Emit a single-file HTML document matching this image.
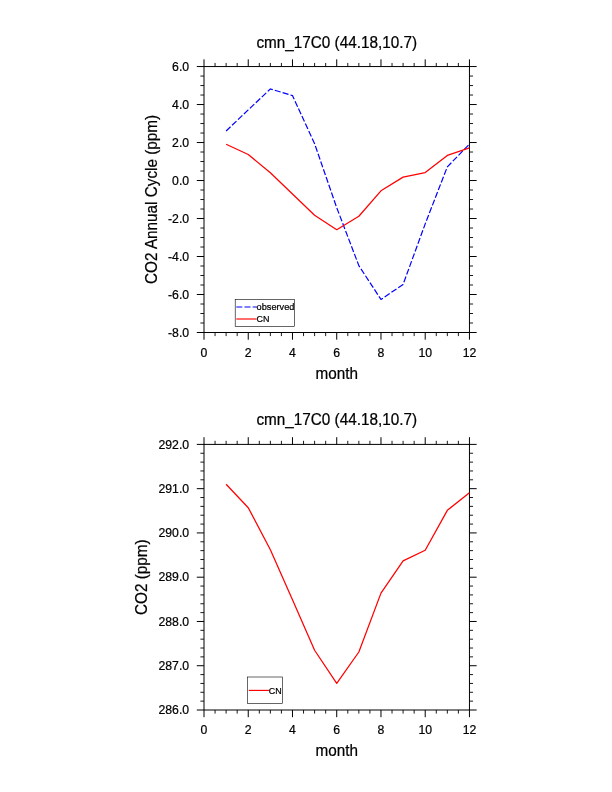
<!DOCTYPE html>
<html><head><meta charset="utf-8"><title>cmn_17C0</title>
<style>
html,body{margin:0;padding:0;background:#fff;}
body{width:612px;height:792px;overflow:hidden;}
svg{display:block;will-change:transform;font-family:"Liberation Sans", sans-serif;fill:#000;}
text{stroke:#000;stroke-width:0.22px;}
</style></head><body>
<svg width="612" height="792" viewBox="0 0 612 792">
<rect x="0" y="0" width="612" height="792" fill="#ffffff"/>
<rect x="204.00" y="66.55" width="265.45" height="265.95" fill="none" stroke="#000" stroke-width="1.00"/>
<line x1="204.00" y1="66.55" x2="204.00" y2="59.35" stroke="#000" stroke-width="1.00"/>
<line x1="204.00" y1="332.50" x2="204.00" y2="339.70" stroke="#000" stroke-width="1.00"/>
<line x1="215.06" y1="66.55" x2="215.06" y2="62.95" stroke="#000" stroke-width="0.90"/>
<line x1="215.06" y1="332.50" x2="215.06" y2="336.10" stroke="#000" stroke-width="0.90"/>
<line x1="226.12" y1="66.55" x2="226.12" y2="62.95" stroke="#000" stroke-width="0.90"/>
<line x1="226.12" y1="332.50" x2="226.12" y2="336.10" stroke="#000" stroke-width="0.90"/>
<line x1="237.18" y1="66.55" x2="237.18" y2="62.95" stroke="#000" stroke-width="0.90"/>
<line x1="237.18" y1="332.50" x2="237.18" y2="336.10" stroke="#000" stroke-width="0.90"/>
<line x1="248.24" y1="66.55" x2="248.24" y2="59.35" stroke="#000" stroke-width="1.00"/>
<line x1="248.24" y1="332.50" x2="248.24" y2="339.70" stroke="#000" stroke-width="1.00"/>
<line x1="259.30" y1="66.55" x2="259.30" y2="62.95" stroke="#000" stroke-width="0.90"/>
<line x1="259.30" y1="332.50" x2="259.30" y2="336.10" stroke="#000" stroke-width="0.90"/>
<line x1="270.36" y1="66.55" x2="270.36" y2="62.95" stroke="#000" stroke-width="0.90"/>
<line x1="270.36" y1="332.50" x2="270.36" y2="336.10" stroke="#000" stroke-width="0.90"/>
<line x1="281.42" y1="66.55" x2="281.42" y2="62.95" stroke="#000" stroke-width="0.90"/>
<line x1="281.42" y1="332.50" x2="281.42" y2="336.10" stroke="#000" stroke-width="0.90"/>
<line x1="292.48" y1="66.55" x2="292.48" y2="59.35" stroke="#000" stroke-width="1.00"/>
<line x1="292.48" y1="332.50" x2="292.48" y2="339.70" stroke="#000" stroke-width="1.00"/>
<line x1="303.54" y1="66.55" x2="303.54" y2="62.95" stroke="#000" stroke-width="0.90"/>
<line x1="303.54" y1="332.50" x2="303.54" y2="336.10" stroke="#000" stroke-width="0.90"/>
<line x1="314.60" y1="66.55" x2="314.60" y2="62.95" stroke="#000" stroke-width="0.90"/>
<line x1="314.60" y1="332.50" x2="314.60" y2="336.10" stroke="#000" stroke-width="0.90"/>
<line x1="325.66" y1="66.55" x2="325.66" y2="62.95" stroke="#000" stroke-width="0.90"/>
<line x1="325.66" y1="332.50" x2="325.66" y2="336.10" stroke="#000" stroke-width="0.90"/>
<line x1="336.73" y1="66.55" x2="336.73" y2="59.35" stroke="#000" stroke-width="1.00"/>
<line x1="336.73" y1="332.50" x2="336.73" y2="339.70" stroke="#000" stroke-width="1.00"/>
<line x1="347.79" y1="66.55" x2="347.79" y2="62.95" stroke="#000" stroke-width="0.90"/>
<line x1="347.79" y1="332.50" x2="347.79" y2="336.10" stroke="#000" stroke-width="0.90"/>
<line x1="358.85" y1="66.55" x2="358.85" y2="62.95" stroke="#000" stroke-width="0.90"/>
<line x1="358.85" y1="332.50" x2="358.85" y2="336.10" stroke="#000" stroke-width="0.90"/>
<line x1="369.91" y1="66.55" x2="369.91" y2="62.95" stroke="#000" stroke-width="0.90"/>
<line x1="369.91" y1="332.50" x2="369.91" y2="336.10" stroke="#000" stroke-width="0.90"/>
<line x1="380.97" y1="66.55" x2="380.97" y2="59.35" stroke="#000" stroke-width="1.00"/>
<line x1="380.97" y1="332.50" x2="380.97" y2="339.70" stroke="#000" stroke-width="1.00"/>
<line x1="392.03" y1="66.55" x2="392.03" y2="62.95" stroke="#000" stroke-width="0.90"/>
<line x1="392.03" y1="332.50" x2="392.03" y2="336.10" stroke="#000" stroke-width="0.90"/>
<line x1="403.09" y1="66.55" x2="403.09" y2="62.95" stroke="#000" stroke-width="0.90"/>
<line x1="403.09" y1="332.50" x2="403.09" y2="336.10" stroke="#000" stroke-width="0.90"/>
<line x1="414.15" y1="66.55" x2="414.15" y2="62.95" stroke="#000" stroke-width="0.90"/>
<line x1="414.15" y1="332.50" x2="414.15" y2="336.10" stroke="#000" stroke-width="0.90"/>
<line x1="425.21" y1="66.55" x2="425.21" y2="59.35" stroke="#000" stroke-width="1.00"/>
<line x1="425.21" y1="332.50" x2="425.21" y2="339.70" stroke="#000" stroke-width="1.00"/>
<line x1="436.27" y1="66.55" x2="436.27" y2="62.95" stroke="#000" stroke-width="0.90"/>
<line x1="436.27" y1="332.50" x2="436.27" y2="336.10" stroke="#000" stroke-width="0.90"/>
<line x1="447.33" y1="66.55" x2="447.33" y2="62.95" stroke="#000" stroke-width="0.90"/>
<line x1="447.33" y1="332.50" x2="447.33" y2="336.10" stroke="#000" stroke-width="0.90"/>
<line x1="458.39" y1="66.55" x2="458.39" y2="62.95" stroke="#000" stroke-width="0.90"/>
<line x1="458.39" y1="332.50" x2="458.39" y2="336.10" stroke="#000" stroke-width="0.90"/>
<line x1="469.45" y1="66.55" x2="469.45" y2="59.35" stroke="#000" stroke-width="1.00"/>
<line x1="469.45" y1="332.50" x2="469.45" y2="339.70" stroke="#000" stroke-width="1.00"/>
<line x1="204.00" y1="66.55" x2="196.80" y2="66.55" stroke="#000" stroke-width="1.00"/>
<line x1="469.45" y1="66.55" x2="476.65" y2="66.55" stroke="#000" stroke-width="1.00"/>
<line x1="204.00" y1="76.05" x2="200.40" y2="76.05" stroke="#000" stroke-width="0.90"/>
<line x1="469.45" y1="76.05" x2="473.05" y2="76.05" stroke="#000" stroke-width="0.90"/>
<line x1="204.00" y1="85.55" x2="200.40" y2="85.55" stroke="#000" stroke-width="0.90"/>
<line x1="469.45" y1="85.55" x2="473.05" y2="85.55" stroke="#000" stroke-width="0.90"/>
<line x1="204.00" y1="95.04" x2="200.40" y2="95.04" stroke="#000" stroke-width="0.90"/>
<line x1="469.45" y1="95.04" x2="473.05" y2="95.04" stroke="#000" stroke-width="0.90"/>
<line x1="204.00" y1="104.54" x2="196.80" y2="104.54" stroke="#000" stroke-width="1.00"/>
<line x1="469.45" y1="104.54" x2="476.65" y2="104.54" stroke="#000" stroke-width="1.00"/>
<line x1="204.00" y1="114.04" x2="200.40" y2="114.04" stroke="#000" stroke-width="0.90"/>
<line x1="469.45" y1="114.04" x2="473.05" y2="114.04" stroke="#000" stroke-width="0.90"/>
<line x1="204.00" y1="123.54" x2="200.40" y2="123.54" stroke="#000" stroke-width="0.90"/>
<line x1="469.45" y1="123.54" x2="473.05" y2="123.54" stroke="#000" stroke-width="0.90"/>
<line x1="204.00" y1="133.04" x2="200.40" y2="133.04" stroke="#000" stroke-width="0.90"/>
<line x1="469.45" y1="133.04" x2="473.05" y2="133.04" stroke="#000" stroke-width="0.90"/>
<line x1="204.00" y1="142.54" x2="196.80" y2="142.54" stroke="#000" stroke-width="1.00"/>
<line x1="469.45" y1="142.54" x2="476.65" y2="142.54" stroke="#000" stroke-width="1.00"/>
<line x1="204.00" y1="152.03" x2="200.40" y2="152.03" stroke="#000" stroke-width="0.90"/>
<line x1="469.45" y1="152.03" x2="473.05" y2="152.03" stroke="#000" stroke-width="0.90"/>
<line x1="204.00" y1="161.53" x2="200.40" y2="161.53" stroke="#000" stroke-width="0.90"/>
<line x1="469.45" y1="161.53" x2="473.05" y2="161.53" stroke="#000" stroke-width="0.90"/>
<line x1="204.00" y1="171.03" x2="200.40" y2="171.03" stroke="#000" stroke-width="0.90"/>
<line x1="469.45" y1="171.03" x2="473.05" y2="171.03" stroke="#000" stroke-width="0.90"/>
<line x1="204.00" y1="180.53" x2="196.80" y2="180.53" stroke="#000" stroke-width="1.00"/>
<line x1="469.45" y1="180.53" x2="476.65" y2="180.53" stroke="#000" stroke-width="1.00"/>
<line x1="204.00" y1="190.03" x2="200.40" y2="190.03" stroke="#000" stroke-width="0.90"/>
<line x1="469.45" y1="190.03" x2="473.05" y2="190.03" stroke="#000" stroke-width="0.90"/>
<line x1="204.00" y1="199.52" x2="200.40" y2="199.52" stroke="#000" stroke-width="0.90"/>
<line x1="469.45" y1="199.52" x2="473.05" y2="199.52" stroke="#000" stroke-width="0.90"/>
<line x1="204.00" y1="209.02" x2="200.40" y2="209.02" stroke="#000" stroke-width="0.90"/>
<line x1="469.45" y1="209.02" x2="473.05" y2="209.02" stroke="#000" stroke-width="0.90"/>
<line x1="204.00" y1="218.52" x2="196.80" y2="218.52" stroke="#000" stroke-width="1.00"/>
<line x1="469.45" y1="218.52" x2="476.65" y2="218.52" stroke="#000" stroke-width="1.00"/>
<line x1="204.00" y1="228.02" x2="200.40" y2="228.02" stroke="#000" stroke-width="0.90"/>
<line x1="469.45" y1="228.02" x2="473.05" y2="228.02" stroke="#000" stroke-width="0.90"/>
<line x1="204.00" y1="237.52" x2="200.40" y2="237.52" stroke="#000" stroke-width="0.90"/>
<line x1="469.45" y1="237.52" x2="473.05" y2="237.52" stroke="#000" stroke-width="0.90"/>
<line x1="204.00" y1="247.02" x2="200.40" y2="247.02" stroke="#000" stroke-width="0.90"/>
<line x1="469.45" y1="247.02" x2="473.05" y2="247.02" stroke="#000" stroke-width="0.90"/>
<line x1="204.00" y1="256.51" x2="196.80" y2="256.51" stroke="#000" stroke-width="1.00"/>
<line x1="469.45" y1="256.51" x2="476.65" y2="256.51" stroke="#000" stroke-width="1.00"/>
<line x1="204.00" y1="266.01" x2="200.40" y2="266.01" stroke="#000" stroke-width="0.90"/>
<line x1="469.45" y1="266.01" x2="473.05" y2="266.01" stroke="#000" stroke-width="0.90"/>
<line x1="204.00" y1="275.51" x2="200.40" y2="275.51" stroke="#000" stroke-width="0.90"/>
<line x1="469.45" y1="275.51" x2="473.05" y2="275.51" stroke="#000" stroke-width="0.90"/>
<line x1="204.00" y1="285.01" x2="200.40" y2="285.01" stroke="#000" stroke-width="0.90"/>
<line x1="469.45" y1="285.01" x2="473.05" y2="285.01" stroke="#000" stroke-width="0.90"/>
<line x1="204.00" y1="294.51" x2="196.80" y2="294.51" stroke="#000" stroke-width="1.00"/>
<line x1="469.45" y1="294.51" x2="476.65" y2="294.51" stroke="#000" stroke-width="1.00"/>
<line x1="204.00" y1="304.01" x2="200.40" y2="304.01" stroke="#000" stroke-width="0.90"/>
<line x1="469.45" y1="304.01" x2="473.05" y2="304.01" stroke="#000" stroke-width="0.90"/>
<line x1="204.00" y1="313.50" x2="200.40" y2="313.50" stroke="#000" stroke-width="0.90"/>
<line x1="469.45" y1="313.50" x2="473.05" y2="313.50" stroke="#000" stroke-width="0.90"/>
<line x1="204.00" y1="323.00" x2="200.40" y2="323.00" stroke="#000" stroke-width="0.90"/>
<line x1="469.45" y1="323.00" x2="473.05" y2="323.00" stroke="#000" stroke-width="0.90"/>
<line x1="204.00" y1="332.50" x2="196.80" y2="332.50" stroke="#000" stroke-width="1.00"/>
<line x1="469.45" y1="332.50" x2="476.65" y2="332.50" stroke="#000" stroke-width="1.00"/>
<text transform="translate(204.00,357.29) scale(1,1.030)" font-size="12.25" text-anchor="middle">0</text>
<text transform="translate(248.24,357.29) scale(1,1.030)" font-size="12.25" text-anchor="middle">2</text>
<text transform="translate(292.48,357.29) scale(1,1.030)" font-size="12.25" text-anchor="middle">4</text>
<text transform="translate(336.73,357.29) scale(1,1.030)" font-size="12.25" text-anchor="middle">6</text>
<text transform="translate(380.97,357.29) scale(1,1.030)" font-size="12.25" text-anchor="middle">8</text>
<text transform="translate(425.21,357.29) scale(1,1.030)" font-size="12.25" text-anchor="middle">10</text>
<text transform="translate(469.45,357.29) scale(1,1.030)" font-size="12.25" text-anchor="middle">12</text>
<text transform="translate(189.10,70.84) scale(1,1.030)" font-size="12.25" text-anchor="end">6.0</text>
<text transform="translate(189.10,108.83) scale(1,1.030)" font-size="12.25" text-anchor="end">4.0</text>
<text transform="translate(189.10,146.82) scale(1,1.030)" font-size="12.25" text-anchor="end">2.0</text>
<text transform="translate(189.10,184.82) scale(1,1.030)" font-size="12.25" text-anchor="end">0.0</text>
<text transform="translate(189.10,222.81) scale(1,1.030)" font-size="12.25" text-anchor="end">-2.0</text>
<text transform="translate(189.10,260.80) scale(1,1.030)" font-size="12.25" text-anchor="end">-4.0</text>
<text transform="translate(189.10,298.79) scale(1,1.030)" font-size="12.25" text-anchor="end">-6.0</text>
<text transform="translate(189.10,336.79) scale(1,1.030)" font-size="12.25" text-anchor="end">-8.0</text>
<text transform="translate(336.73,47.80) scale(1,1.030)" font-size="15.30" text-anchor="middle">cmn_17C0 (44.18,10.7)</text>
<text transform="translate(336.73,379.00) scale(1,1.030)" font-size="15.30" text-anchor="middle">month</text>
<text transform="translate(156.70,199.43) rotate(-90) scale(1,1.030)" font-size="15.30" text-anchor="middle">CO2 Annual Cycle (ppm)</text>
<polyline points="226.12,130.95 248.24,109.86 270.36,88.97 292.48,95.61 314.60,143.68 336.73,207.69 358.85,265.63 380.97,299.45 403.09,284.44 425.21,223.84 447.33,166.85 469.45,144.06" fill="none" stroke="#0000ff" stroke-width="1.2" stroke-dasharray="6.1,2.1" stroke-linejoin="round"/>
<polyline points="226.12,144.25 248.24,154.50 270.36,172.74 292.48,194.02 314.60,215.29 336.73,229.73 358.85,216.24 380.97,190.79 403.09,177.11 425.21,172.55 447.33,155.45 469.45,147.85" fill="none" stroke="#ff0000" stroke-width="1.25" stroke-linejoin="round"/>
<rect x="235.2" y="299.4" width="59.3" height="26.9" fill="#fff" stroke="#000" stroke-width="0.6"/>
<line x1="236.3" y1="307" x2="256.8" y2="307" stroke="#0000ff" stroke-width="1.15" stroke-dasharray="6.0,2.2"/>
<line x1="236.3" y1="319" x2="256.6" y2="319" stroke="#ff0000" stroke-width="1.15"/>
<text transform="translate(256.60,310.20) scale(1,1.030)" font-size="9.20" text-anchor="start">observed</text>
<text x="256.5" y="322.45" font-size="9.8" textLength="12.9" lengthAdjust="spacingAndGlyphs">CN</text>
<rect x="204.00" y="444.40" width="265.45" height="265.60" fill="none" stroke="#000" stroke-width="1.00"/>
<line x1="204.00" y1="444.40" x2="204.00" y2="437.20" stroke="#000" stroke-width="1.00"/>
<line x1="204.00" y1="710.00" x2="204.00" y2="717.20" stroke="#000" stroke-width="1.00"/>
<line x1="215.06" y1="444.40" x2="215.06" y2="440.80" stroke="#000" stroke-width="0.90"/>
<line x1="215.06" y1="710.00" x2="215.06" y2="713.60" stroke="#000" stroke-width="0.90"/>
<line x1="226.12" y1="444.40" x2="226.12" y2="440.80" stroke="#000" stroke-width="0.90"/>
<line x1="226.12" y1="710.00" x2="226.12" y2="713.60" stroke="#000" stroke-width="0.90"/>
<line x1="237.18" y1="444.40" x2="237.18" y2="440.80" stroke="#000" stroke-width="0.90"/>
<line x1="237.18" y1="710.00" x2="237.18" y2="713.60" stroke="#000" stroke-width="0.90"/>
<line x1="248.24" y1="444.40" x2="248.24" y2="437.20" stroke="#000" stroke-width="1.00"/>
<line x1="248.24" y1="710.00" x2="248.24" y2="717.20" stroke="#000" stroke-width="1.00"/>
<line x1="259.30" y1="444.40" x2="259.30" y2="440.80" stroke="#000" stroke-width="0.90"/>
<line x1="259.30" y1="710.00" x2="259.30" y2="713.60" stroke="#000" stroke-width="0.90"/>
<line x1="270.36" y1="444.40" x2="270.36" y2="440.80" stroke="#000" stroke-width="0.90"/>
<line x1="270.36" y1="710.00" x2="270.36" y2="713.60" stroke="#000" stroke-width="0.90"/>
<line x1="281.42" y1="444.40" x2="281.42" y2="440.80" stroke="#000" stroke-width="0.90"/>
<line x1="281.42" y1="710.00" x2="281.42" y2="713.60" stroke="#000" stroke-width="0.90"/>
<line x1="292.48" y1="444.40" x2="292.48" y2="437.20" stroke="#000" stroke-width="1.00"/>
<line x1="292.48" y1="710.00" x2="292.48" y2="717.20" stroke="#000" stroke-width="1.00"/>
<line x1="303.54" y1="444.40" x2="303.54" y2="440.80" stroke="#000" stroke-width="0.90"/>
<line x1="303.54" y1="710.00" x2="303.54" y2="713.60" stroke="#000" stroke-width="0.90"/>
<line x1="314.60" y1="444.40" x2="314.60" y2="440.80" stroke="#000" stroke-width="0.90"/>
<line x1="314.60" y1="710.00" x2="314.60" y2="713.60" stroke="#000" stroke-width="0.90"/>
<line x1="325.66" y1="444.40" x2="325.66" y2="440.80" stroke="#000" stroke-width="0.90"/>
<line x1="325.66" y1="710.00" x2="325.66" y2="713.60" stroke="#000" stroke-width="0.90"/>
<line x1="336.73" y1="444.40" x2="336.73" y2="437.20" stroke="#000" stroke-width="1.00"/>
<line x1="336.73" y1="710.00" x2="336.73" y2="717.20" stroke="#000" stroke-width="1.00"/>
<line x1="347.79" y1="444.40" x2="347.79" y2="440.80" stroke="#000" stroke-width="0.90"/>
<line x1="347.79" y1="710.00" x2="347.79" y2="713.60" stroke="#000" stroke-width="0.90"/>
<line x1="358.85" y1="444.40" x2="358.85" y2="440.80" stroke="#000" stroke-width="0.90"/>
<line x1="358.85" y1="710.00" x2="358.85" y2="713.60" stroke="#000" stroke-width="0.90"/>
<line x1="369.91" y1="444.40" x2="369.91" y2="440.80" stroke="#000" stroke-width="0.90"/>
<line x1="369.91" y1="710.00" x2="369.91" y2="713.60" stroke="#000" stroke-width="0.90"/>
<line x1="380.97" y1="444.40" x2="380.97" y2="437.20" stroke="#000" stroke-width="1.00"/>
<line x1="380.97" y1="710.00" x2="380.97" y2="717.20" stroke="#000" stroke-width="1.00"/>
<line x1="392.03" y1="444.40" x2="392.03" y2="440.80" stroke="#000" stroke-width="0.90"/>
<line x1="392.03" y1="710.00" x2="392.03" y2="713.60" stroke="#000" stroke-width="0.90"/>
<line x1="403.09" y1="444.40" x2="403.09" y2="440.80" stroke="#000" stroke-width="0.90"/>
<line x1="403.09" y1="710.00" x2="403.09" y2="713.60" stroke="#000" stroke-width="0.90"/>
<line x1="414.15" y1="444.40" x2="414.15" y2="440.80" stroke="#000" stroke-width="0.90"/>
<line x1="414.15" y1="710.00" x2="414.15" y2="713.60" stroke="#000" stroke-width="0.90"/>
<line x1="425.21" y1="444.40" x2="425.21" y2="437.20" stroke="#000" stroke-width="1.00"/>
<line x1="425.21" y1="710.00" x2="425.21" y2="717.20" stroke="#000" stroke-width="1.00"/>
<line x1="436.27" y1="444.40" x2="436.27" y2="440.80" stroke="#000" stroke-width="0.90"/>
<line x1="436.27" y1="710.00" x2="436.27" y2="713.60" stroke="#000" stroke-width="0.90"/>
<line x1="447.33" y1="444.40" x2="447.33" y2="440.80" stroke="#000" stroke-width="0.90"/>
<line x1="447.33" y1="710.00" x2="447.33" y2="713.60" stroke="#000" stroke-width="0.90"/>
<line x1="458.39" y1="444.40" x2="458.39" y2="440.80" stroke="#000" stroke-width="0.90"/>
<line x1="458.39" y1="710.00" x2="458.39" y2="713.60" stroke="#000" stroke-width="0.90"/>
<line x1="469.45" y1="444.40" x2="469.45" y2="437.20" stroke="#000" stroke-width="1.00"/>
<line x1="469.45" y1="710.00" x2="469.45" y2="717.20" stroke="#000" stroke-width="1.00"/>
<line x1="204.00" y1="444.40" x2="196.80" y2="444.40" stroke="#000" stroke-width="1.00"/>
<line x1="469.45" y1="444.40" x2="476.65" y2="444.40" stroke="#000" stroke-width="1.00"/>
<line x1="204.00" y1="453.25" x2="200.40" y2="453.25" stroke="#000" stroke-width="0.90"/>
<line x1="469.45" y1="453.25" x2="473.05" y2="453.25" stroke="#000" stroke-width="0.90"/>
<line x1="204.00" y1="462.11" x2="200.40" y2="462.11" stroke="#000" stroke-width="0.90"/>
<line x1="469.45" y1="462.11" x2="473.05" y2="462.11" stroke="#000" stroke-width="0.90"/>
<line x1="204.00" y1="470.96" x2="200.40" y2="470.96" stroke="#000" stroke-width="0.90"/>
<line x1="469.45" y1="470.96" x2="473.05" y2="470.96" stroke="#000" stroke-width="0.90"/>
<line x1="204.00" y1="479.81" x2="200.40" y2="479.81" stroke="#000" stroke-width="0.90"/>
<line x1="469.45" y1="479.81" x2="473.05" y2="479.81" stroke="#000" stroke-width="0.90"/>
<line x1="204.00" y1="488.67" x2="196.80" y2="488.67" stroke="#000" stroke-width="1.00"/>
<line x1="469.45" y1="488.67" x2="476.65" y2="488.67" stroke="#000" stroke-width="1.00"/>
<line x1="204.00" y1="497.52" x2="200.40" y2="497.52" stroke="#000" stroke-width="0.90"/>
<line x1="469.45" y1="497.52" x2="473.05" y2="497.52" stroke="#000" stroke-width="0.90"/>
<line x1="204.00" y1="506.37" x2="200.40" y2="506.37" stroke="#000" stroke-width="0.90"/>
<line x1="469.45" y1="506.37" x2="473.05" y2="506.37" stroke="#000" stroke-width="0.90"/>
<line x1="204.00" y1="515.23" x2="200.40" y2="515.23" stroke="#000" stroke-width="0.90"/>
<line x1="469.45" y1="515.23" x2="473.05" y2="515.23" stroke="#000" stroke-width="0.90"/>
<line x1="204.00" y1="524.08" x2="200.40" y2="524.08" stroke="#000" stroke-width="0.90"/>
<line x1="469.45" y1="524.08" x2="473.05" y2="524.08" stroke="#000" stroke-width="0.90"/>
<line x1="204.00" y1="532.93" x2="196.80" y2="532.93" stroke="#000" stroke-width="1.00"/>
<line x1="469.45" y1="532.93" x2="476.65" y2="532.93" stroke="#000" stroke-width="1.00"/>
<line x1="204.00" y1="541.79" x2="200.40" y2="541.79" stroke="#000" stroke-width="0.90"/>
<line x1="469.45" y1="541.79" x2="473.05" y2="541.79" stroke="#000" stroke-width="0.90"/>
<line x1="204.00" y1="550.64" x2="200.40" y2="550.64" stroke="#000" stroke-width="0.90"/>
<line x1="469.45" y1="550.64" x2="473.05" y2="550.64" stroke="#000" stroke-width="0.90"/>
<line x1="204.00" y1="559.49" x2="200.40" y2="559.49" stroke="#000" stroke-width="0.90"/>
<line x1="469.45" y1="559.49" x2="473.05" y2="559.49" stroke="#000" stroke-width="0.90"/>
<line x1="204.00" y1="568.35" x2="200.40" y2="568.35" stroke="#000" stroke-width="0.90"/>
<line x1="469.45" y1="568.35" x2="473.05" y2="568.35" stroke="#000" stroke-width="0.90"/>
<line x1="204.00" y1="577.20" x2="196.80" y2="577.20" stroke="#000" stroke-width="1.00"/>
<line x1="469.45" y1="577.20" x2="476.65" y2="577.20" stroke="#000" stroke-width="1.00"/>
<line x1="204.00" y1="586.05" x2="200.40" y2="586.05" stroke="#000" stroke-width="0.90"/>
<line x1="469.45" y1="586.05" x2="473.05" y2="586.05" stroke="#000" stroke-width="0.90"/>
<line x1="204.00" y1="594.91" x2="200.40" y2="594.91" stroke="#000" stroke-width="0.90"/>
<line x1="469.45" y1="594.91" x2="473.05" y2="594.91" stroke="#000" stroke-width="0.90"/>
<line x1="204.00" y1="603.76" x2="200.40" y2="603.76" stroke="#000" stroke-width="0.90"/>
<line x1="469.45" y1="603.76" x2="473.05" y2="603.76" stroke="#000" stroke-width="0.90"/>
<line x1="204.00" y1="612.61" x2="200.40" y2="612.61" stroke="#000" stroke-width="0.90"/>
<line x1="469.45" y1="612.61" x2="473.05" y2="612.61" stroke="#000" stroke-width="0.90"/>
<line x1="204.00" y1="621.47" x2="196.80" y2="621.47" stroke="#000" stroke-width="1.00"/>
<line x1="469.45" y1="621.47" x2="476.65" y2="621.47" stroke="#000" stroke-width="1.00"/>
<line x1="204.00" y1="630.32" x2="200.40" y2="630.32" stroke="#000" stroke-width="0.90"/>
<line x1="469.45" y1="630.32" x2="473.05" y2="630.32" stroke="#000" stroke-width="0.90"/>
<line x1="204.00" y1="639.17" x2="200.40" y2="639.17" stroke="#000" stroke-width="0.90"/>
<line x1="469.45" y1="639.17" x2="473.05" y2="639.17" stroke="#000" stroke-width="0.90"/>
<line x1="204.00" y1="648.03" x2="200.40" y2="648.03" stroke="#000" stroke-width="0.90"/>
<line x1="469.45" y1="648.03" x2="473.05" y2="648.03" stroke="#000" stroke-width="0.90"/>
<line x1="204.00" y1="656.88" x2="200.40" y2="656.88" stroke="#000" stroke-width="0.90"/>
<line x1="469.45" y1="656.88" x2="473.05" y2="656.88" stroke="#000" stroke-width="0.90"/>
<line x1="204.00" y1="665.73" x2="196.80" y2="665.73" stroke="#000" stroke-width="1.00"/>
<line x1="469.45" y1="665.73" x2="476.65" y2="665.73" stroke="#000" stroke-width="1.00"/>
<line x1="204.00" y1="674.59" x2="200.40" y2="674.59" stroke="#000" stroke-width="0.90"/>
<line x1="469.45" y1="674.59" x2="473.05" y2="674.59" stroke="#000" stroke-width="0.90"/>
<line x1="204.00" y1="683.44" x2="200.40" y2="683.44" stroke="#000" stroke-width="0.90"/>
<line x1="469.45" y1="683.44" x2="473.05" y2="683.44" stroke="#000" stroke-width="0.90"/>
<line x1="204.00" y1="692.29" x2="200.40" y2="692.29" stroke="#000" stroke-width="0.90"/>
<line x1="469.45" y1="692.29" x2="473.05" y2="692.29" stroke="#000" stroke-width="0.90"/>
<line x1="204.00" y1="701.15" x2="200.40" y2="701.15" stroke="#000" stroke-width="0.90"/>
<line x1="469.45" y1="701.15" x2="473.05" y2="701.15" stroke="#000" stroke-width="0.90"/>
<line x1="204.00" y1="710.00" x2="196.80" y2="710.00" stroke="#000" stroke-width="1.00"/>
<line x1="469.45" y1="710.00" x2="476.65" y2="710.00" stroke="#000" stroke-width="1.00"/>
<text transform="translate(204.00,734.09) scale(1,1.030)" font-size="12.25" text-anchor="middle">0</text>
<text transform="translate(248.24,734.09) scale(1,1.030)" font-size="12.25" text-anchor="middle">2</text>
<text transform="translate(292.48,734.09) scale(1,1.030)" font-size="12.25" text-anchor="middle">4</text>
<text transform="translate(336.73,734.09) scale(1,1.030)" font-size="12.25" text-anchor="middle">6</text>
<text transform="translate(380.97,734.09) scale(1,1.030)" font-size="12.25" text-anchor="middle">8</text>
<text transform="translate(425.21,734.09) scale(1,1.030)" font-size="12.25" text-anchor="middle">10</text>
<text transform="translate(469.45,734.09) scale(1,1.030)" font-size="12.25" text-anchor="middle">12</text>
<text transform="translate(189.10,448.69) scale(1,1.030)" font-size="12.25" text-anchor="end">292.0</text>
<text transform="translate(189.10,492.95) scale(1,1.030)" font-size="12.25" text-anchor="end">291.0</text>
<text transform="translate(189.10,537.22) scale(1,1.030)" font-size="12.25" text-anchor="end">290.0</text>
<text transform="translate(189.10,581.49) scale(1,1.030)" font-size="12.25" text-anchor="end">289.0</text>
<text transform="translate(189.10,625.75) scale(1,1.030)" font-size="12.25" text-anchor="end">288.0</text>
<text transform="translate(189.10,670.02) scale(1,1.030)" font-size="12.25" text-anchor="end">287.0</text>
<text transform="translate(189.10,714.29) scale(1,1.030)" font-size="12.25" text-anchor="end">286.0</text>
<text transform="translate(336.73,425.40) scale(1,1.030)" font-size="15.30" text-anchor="middle">cmn_17C0 (44.18,10.7)</text>
<text transform="translate(336.73,756.00) scale(1,1.030)" font-size="15.30" text-anchor="middle">month</text>
<text transform="translate(147.10,577.20) rotate(-90) scale(1,1.030)" font-size="15.30" text-anchor="middle">CO2 (ppm)</text>
<polyline points="226.12,484.24 248.24,507.70 270.36,549.75 292.48,599.78 314.60,650.24 336.73,683.44 358.85,652.01 380.97,593.14 403.09,560.82 425.21,550.20 447.33,510.36 469.45,492.65" fill="none" stroke="#ff0000" stroke-width="1.25" stroke-linejoin="round"/>
<rect x="247.5" y="677.0" width="35.1" height="26.3" fill="#fff" stroke="#000" stroke-width="0.6"/>
<line x1="248.8" y1="690.4" x2="269.0" y2="690.4" stroke="#ff0000" stroke-width="1.15"/>
<text x="268.8" y="693.85" font-size="9.8" textLength="12.9" lengthAdjust="spacingAndGlyphs">CN</text>
</svg>
</body></html>
